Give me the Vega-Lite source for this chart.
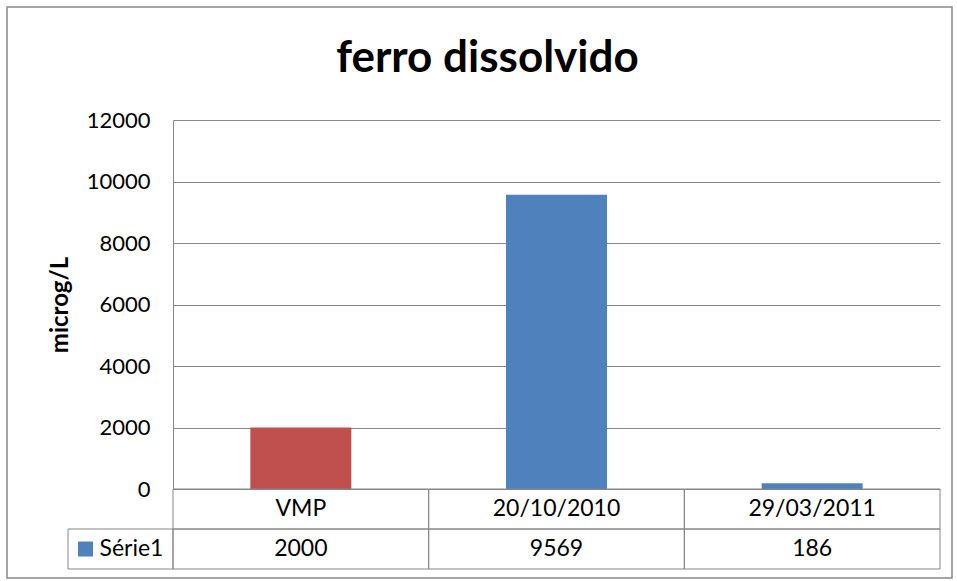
{
  "$schema": "https://vega.github.io/schema/vega-lite/v6.json",
  "width": 945,
  "height": 571,
  "autosize": {"type": "none"},
  "padding": {"left": 7, "top": 7, "right": 5, "bottom": 3},
  "background": "white",
  "config": {"view": {"stroke": "#888888", "strokeWidth": 1.5}, "font": "Lato"},
  "title": {"text": "ferro dissolvido", "font": "Lato", "fontSize": 44, "fontWeight": "bold", "color": "#000000", "anchor": "middle", "frame": "group", "offset": -66, "baseline": "alphabetic", "dx": 8, "dy": 43},
  "datasets": {
    "main": [
      {"categoria": "VMP", "valor": 2000},
      {"categoria": "20/10/2010", "valor": 9569},
      {"categoria": "29/03/2011", "valor": 186}
    ],
    "serie": [{"serie": "Série1"}]
  },
  "layer": [
    {
      "data": {"name": "main"},
      "mark": {"type": "bar", "width": {"band": 0.395}},
      "encoding": {
        "x": {"field": "categoria", "type": "nominal", "sort": null,
              "scale": {"domain": ["VMP", "20/10/2010", "29/03/2011"], "range": [166, 933], "paddingInner": 0, "paddingOuter": 0}, "axis": null},
        "y": {"field": "valor", "type": "quantitative",
              "scale": {"domain": [0, 12000], "range": [482, 113], "nice": false, "zero": true},
              "axis": {"title": "microg/L", "titleFont": "Lato", "titleFontSize": 24, "titleFontWeight": "bold", "titleColor": "#000000", "titlePadding": 14,
                       "offset": -166, "values": [0, 2000, 4000, 6000, 8000, 10000, 12000], "format": "d",
                       "labelFont": "Lato", "labelFontSize": 22, "labelColor": "#000000", "labelPadding": 23, "labelFlush": false, "labelOverlap": false,
                       "ticks": false, "domain": true, "domainColor": "#868686", "grid": true, "gridColor": "#868686", "gridOpacity": 1, "gridWidth": 1}},
        "color": {"field": "categoria", "type": "nominal",
                  "scale": {"domain": ["VMP", "20/10/2010", "29/03/2011"], "range": ["#C0504D", "#4F81BD", "#4F81BD"]}, "legend": null}
      }
    },
    {
      "data": {"name": "main"},
      "mark": {"type": "rect", "fill": "transparent", "stroke": "#868686", "strokeWidth": 1},
      "encoding": {
        "x": {"field": "categoria", "type": "nominal", "sort": null,
              "scale": {"domain": ["VMP", "20/10/2010", "29/03/2011"], "range": [166, 933], "paddingInner": 0, "paddingOuter": 0}, "axis": null},
        "y": {"datum": "cat", "type": "nominal", "scale": {"domain": ["cat", "val"], "range": [482, 562], "paddingInner": 0, "paddingOuter": 0}, "axis": null}
      }
    },
    {
      "data": {"name": "main"},
      "mark": {"type": "rect", "fill": "transparent", "stroke": "#868686", "strokeWidth": 1},
      "encoding": {
        "x": {"field": "categoria", "type": "nominal", "sort": null,
              "scale": {"domain": ["VMP", "20/10/2010", "29/03/2011"], "range": [166, 933], "paddingInner": 0, "paddingOuter": 0}, "axis": null},
        "y": {"datum": "val", "type": "nominal", "scale": {"domain": ["cat", "val"], "range": [482, 562], "paddingInner": 0, "paddingOuter": 0}, "axis": null}
      }
    },
    {
      "data": {"name": "main"},
      "mark": {"type": "text", "font": "Lato", "fontSize": 23, "color": "#000000", "baseline": "middle", "align": "center"},
      "encoding": {
        "x": {"field": "categoria", "type": "nominal", "sort": null,
              "scale": {"domain": ["VMP", "20/10/2010", "29/03/2011"], "range": [166, 933], "paddingInner": 0, "paddingOuter": 0}, "axis": null},
        "y": {"datum": "cat", "type": "nominal", "scale": {"domain": ["cat", "val"], "range": [482, 562], "paddingInner": 0, "paddingOuter": 0}, "axis": null},
        "text": {"field": "categoria", "type": "nominal"}
      }
    },
    {
      "data": {"name": "main"},
      "mark": {"type": "text", "font": "Lato", "fontSize": 23, "color": "#000000", "baseline": "middle", "align": "center"},
      "encoding": {
        "x": {"field": "categoria", "type": "nominal", "sort": null,
              "scale": {"domain": ["VMP", "20/10/2010", "29/03/2011"], "range": [166, 933], "paddingInner": 0, "paddingOuter": 0}, "axis": null},
        "y": {"datum": "val", "type": "nominal", "scale": {"domain": ["cat", "val"], "range": [482, 562], "paddingInner": 0, "paddingOuter": 0}, "axis": null},
        "text": {"field": "valor", "type": "quantitative", "format": "d"}
      }
    },
    {
      "data": {"name": "serie"},
      "mark": {"type": "rect", "fill": "transparent", "stroke": "#868686", "strokeWidth": 1},
      "encoding": {
        "x": {"field": "serie", "type": "nominal", "scale": {"domain": ["Série1"], "range": [61, 166], "paddingInner": 0, "paddingOuter": 0}, "axis": null},
        "y": {"datum": "val", "type": "nominal", "scale": {"domain": ["cat", "val"], "range": [482, 562], "paddingInner": 0, "paddingOuter": 0}, "axis": null}
      }
    },
    {
      "data": {"name": "serie"},
      "mark": {"type": "point", "shape": "square", "filled": true, "size": 225, "color": "#4F81BD", "opacity": 1},
      "encoding": {
        "x": {"field": "serie", "type": "nominal", "scale": {"domain": ["Série1"], "range": [61, 166], "paddingInner": 0, "paddingOuter": 0}, "axis": null},
        "xOffset": {"value": -35},
        "y": {"datum": "val", "type": "nominal", "scale": {"domain": ["cat", "val"], "range": [482, 562], "paddingInner": 0, "paddingOuter": 0}, "axis": null}
      }
    },
    {
      "data": {"name": "serie"},
      "mark": {"type": "text", "font": "Lato", "fontSize": 23, "color": "#000000", "baseline": "middle", "align": "left", "dx": -21},
      "encoding": {
        "x": {"field": "serie", "type": "nominal", "scale": {"domain": ["Série1"], "range": [61, 166], "paddingInner": 0, "paddingOuter": 0}, "axis": null},
        "y": {"datum": "val", "type": "nominal", "scale": {"domain": ["cat", "val"], "range": [482, 562], "paddingInner": 0, "paddingOuter": 0}, "axis": null},
        "text": {"field": "serie", "type": "nominal"}
      }
    }
  ],
  "resolve": {"scale": {"x": "independent", "y": "independent", "color": "independent"}}
}
